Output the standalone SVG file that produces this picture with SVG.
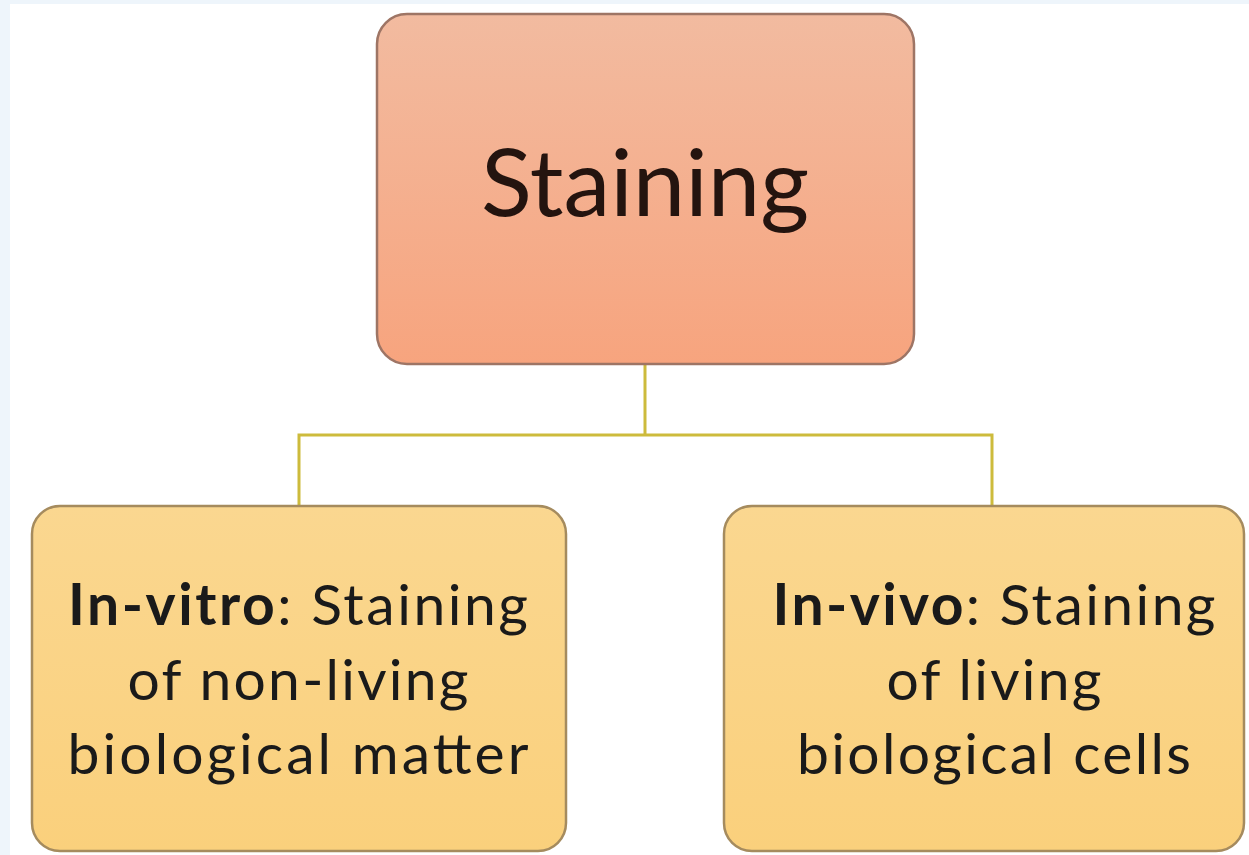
<svg xmlns="http://www.w3.org/2000/svg" width="1249" height="855" viewBox="0 0 1249 855">
<defs>
<linearGradient id="gTop" x1="0" y1="0" x2="0" y2="1">
<stop offset="0" stop-color="#f2bba0"/>
<stop offset="1" stop-color="#f7a47e"/>
</linearGradient>
<linearGradient id="gLeaf" x1="0" y1="0" x2="0" y2="1">
<stop offset="0" stop-color="#fad790"/>
<stop offset="1" stop-color="#fad07c"/>
</linearGradient>
<style>
.top{fill:url(#gTop);stroke:#9e7565;stroke-width:2.5}
.leaf{fill:url(#gLeaf);stroke:#a58b5e;stroke-width:2.5}
.conn{fill:none;stroke:#cdbb3c;stroke-width:3}
.t1{font-family:Lato,"Liberation Sans",sans-serif;font-size:94px;fill:#24140f;text-anchor:middle}
.t2{font-family:Lato,"Liberation Sans",sans-serif;font-size:57px;fill:#1a1a1a;text-anchor:middle}
.b{font-weight:bold}
</style>
</defs>
<rect x="0" y="0" width="1249" height="855" fill="#ffffff"/>
<rect x="0" y="0" width="1249" height="4" fill="#eef5fb"/>
<rect x="0" y="0" width="10" height="855" fill="#eef5fb"/>
<g id="connectors">
<path class="conn" d="M645 364 V435 M299 505 V435 H992 V505"/>
</g>
<g id="staining">
<rect class="top" x="377" y="14" width="537" height="350" rx="30"/>
<text class="t1" x="645" y="216">Staining</text>
</g>
<g id="in-vitro">
<rect class="leaf" x="32" y="506" width="534" height="345" rx="28"/>
<text class="t2" x="298" y="625" textLength="460" lengthAdjust="spacing"><tspan class="b">In-vitro</tspan>: Staining</text>
<text class="t2" x="298" y="700" textLength="341" lengthAdjust="spacing">of non-living</text>
<text class="t2" x="298" y="774" textLength="461" lengthAdjust="spacing">biological matter</text>
</g>
<g id="in-vivo">
<rect class="leaf" x="724" y="506" width="520" height="345" rx="28"/>
<text class="t2" x="994" y="625" textLength="443" lengthAdjust="spacing"><tspan class="b">In-vivo</tspan>: Staining</text>
<text class="t2" x="994" y="700" textLength="215" lengthAdjust="spacing">of living</text>
<text class="t2" x="994" y="774" textLength="394" lengthAdjust="spacing">biological cells</text>
</g>
</svg>
